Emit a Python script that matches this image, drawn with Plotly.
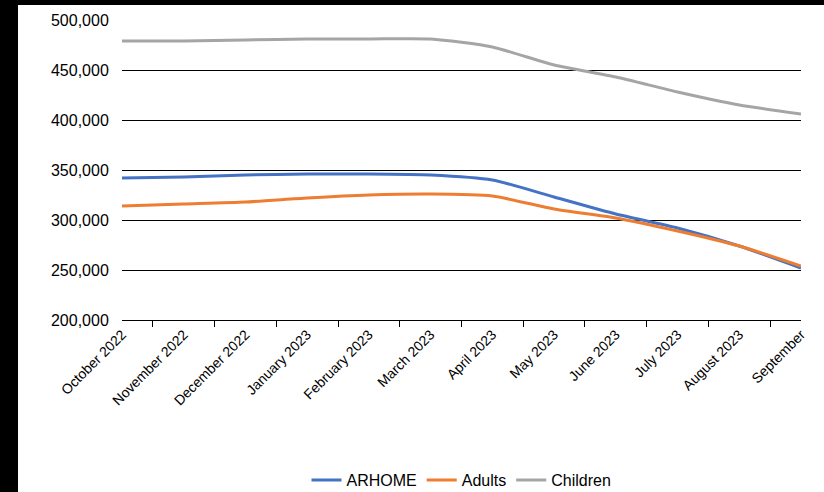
import plotly.graph_objects as go

months = ["October 2022","November 2022","December 2022","January 2023","February 2023","March 2023",
          "April 2023","May 2023","June 2023","July 2023","August 2023","September"]
arhome = [342000,343000,345000,346000,346000,345000,340000,323000,306000,292000,274000,252000]
adults = [314000,316000,318000,322000,325000,326000,324000,311000,302000,289000,274000,254000]
children = [479000,479000,480000,481000,481000,481000,473000,455000,443000,428000,415000,406000]

fig = go.Figure()
for name, vals, col in [("ARHOME", arhome, "#4472C4"), ("Adults", adults, "#ED7D31"), ("Children", children, "#A5A5A5")]:
    fig.add_trace(go.Scatter(x=months, y=vals, name=name, mode="lines",
                             line=dict(color=col, width=3, shape="spline", smoothing=0.6)))

W, H = 824, 492
l, r, t, b = 122, 23, 20, 172
pw, ph = W - l - r, H - t - b
fig.update_layout(
    width=W, height=H, margin=dict(l=l, r=r, t=t, b=b, autoexpand=False),
    paper_bgcolor="white", plot_bgcolor="white",
    font=dict(family="Liberation Sans, Arial", size=16, color="black"),
    xaxis=dict(tickangle=-45, showline=True, linecolor="black", ticks="outside", tickcolor="black",
               ticklen=6, tickson="boundaries", showgrid=False, tickfont=dict(size=14), automargin=False),
    yaxis=dict(range=[200000, 500000], dtick=50000, tickformat=",", showgrid=True, gridcolor="black",
               gridwidth=1, zeroline=False, showline=False, automargin=False,
               ticks="outside", ticklen=9, tickcolor="rgba(0,0,0,0)"),
    legend=dict(orientation="h", x=0.5, xanchor="center", y=-(160/ph), yanchor="middle", font=dict(size=16)),
    showlegend=True,
    shapes=[
        dict(type="rect", xref="paper", yref="paper", x0=-l/pw, x1=(18-l)/pw, y0=-b/ph, y1=1+t/ph,
             fillcolor="black", line_width=0),
        dict(type="rect", xref="paper", yref="paper", x0=-l/pw, x1=1+r/pw, y0=1+(t-5)/ph, y1=1+t/ph,
             fillcolor="black", line_width=0),
    ],
)
fig.write_html("out.html", post_script="document.body.style.margin='0';",
               config={"displayModeBar": False})
